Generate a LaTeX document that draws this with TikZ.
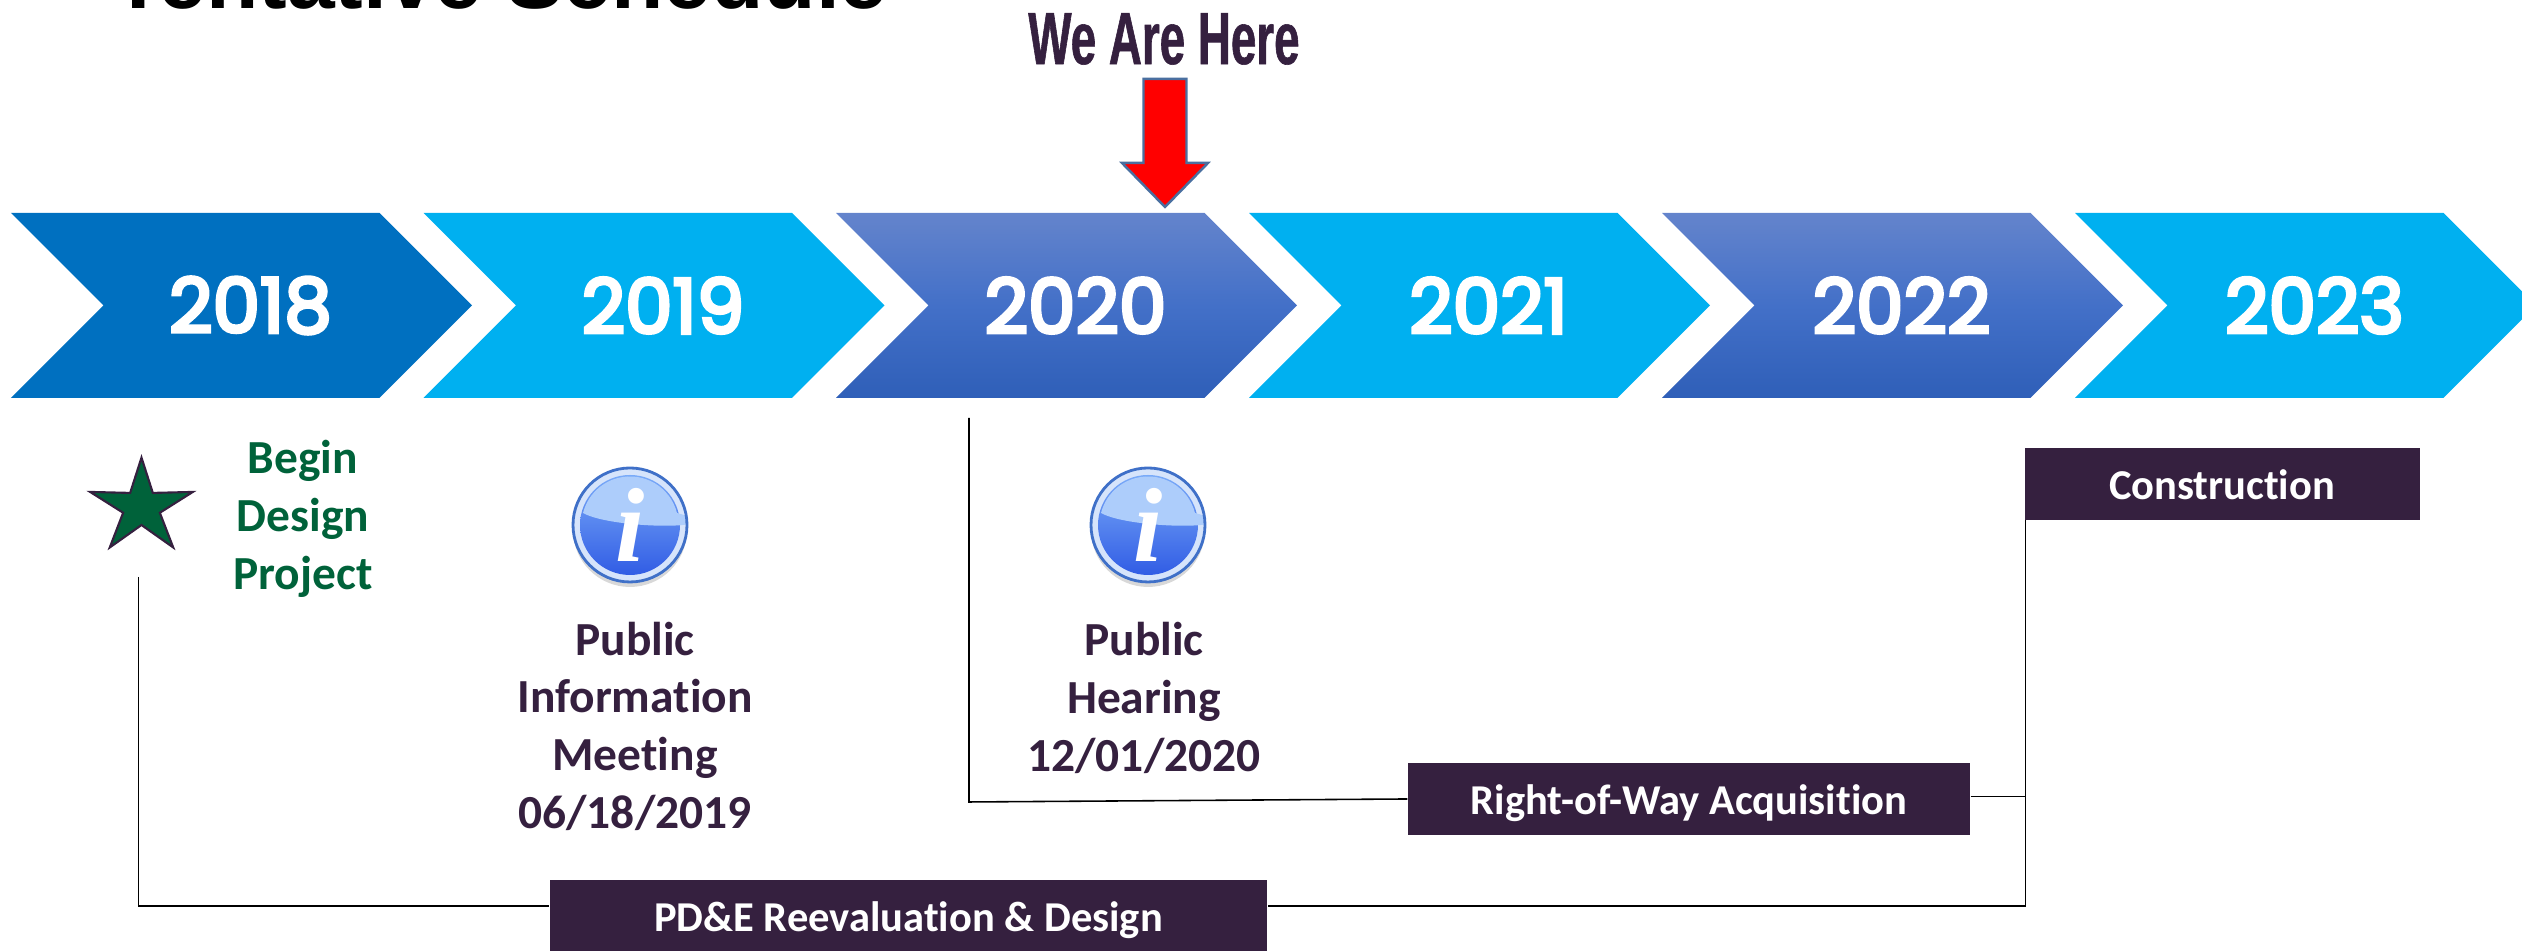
\documentclass[tikz,border=0pt]{standalone}
\usepackage{fontspec}
\setmainfont[Ligatures=NoCommon]{Carlito}
\newfontfamily\yearfont[FakeBold=4.6]{Poppins}
\newfontfamily\titlefont{Liberation Sans}
\newfontfamily\herefont[FakeStretch=0.62,FakeBold=0.8]{Liberation Sans}
\newfontfamily\infofont{Liberation Serif}
\usetikzlibrary{shapes.geometric,shapes.symbols,shadows,positioning}
\definecolor{plum}{HTML}{35203F}
\definecolor{forest}{HTML}{00623A}
\definecolor{deepblue}{HTML}{0070C0}
\definecolor{skyblue}{HTML}{00B0F0}
\definecolor{fadetop}{HTML}{6484CC}
\definecolor{fademid}{HTML}{4370C8}
\definecolor{fadebot}{HTML}{2F5FB8}
\definecolor{steel}{HTML}{4A6FA0}
\definecolor{inforim}{HTML}{3F70C8}
\definecolor{inforing}{HTML}{D6E4FB}
\definecolor{infotop}{HTML}{7FB0FA}
\definecolor{infomid}{HTML}{6A9CF7}
\definecolor{infobot}{HTML}{2C57E3}
\definecolor{infogloss}{HTML}{ADCDFB}
\tikzset{
  yearband/.style={signal,signal from=west,signal to=east,signal pointer angle=90,
    minimum width=4.61cm,minimum height=1.85cm,inner sep=0pt,text=white,
    execute at begin node=\hspace*{0.18cm},
    font=\yearfont\fontsize{21.5}{25}\selectfont},
  skyband/.style={yearband,fill=skyblue},
  fadeband/.style={yearband,top color=fadetop,bottom color=fadebot,middle color=fademid},
  taskbox/.style={fill=plum,text=white,inner sep=0pt,text height=0.35cm,text depth=0.04cm,
    minimum height=0.72cm,font=\bfseries\fontsize{12.1}{14}\selectfont},
  eventtext/.style={text=plum,align=center,font=\bfseries\fontsize{13.5}{16.4}\selectfont},
  link/.style={draw=black,line width=0.45pt},
  infodisc/.style={circle,minimum size=1.14cm,inner sep=0pt,fill=inforing,draw=inforim,line width=0.8pt,
    text=white,font=\infofont\bfseries\itshape\fontsize{30}{30}\selectfont,
    drop shadow={shadow xshift=0pt,shadow yshift=-0.05cm,fill=black!30},
    path picture={
      \fill[top color=infotop,middle color=infomid,bottom color=infobot] (path picture bounding box.center) circle (0.5);
      \fill[infogloss] (path picture bounding box.center) ++(-0.47,0.12) .. controls +(0.3,-0.17) and +(0.64,-0.17) .. ++(0.94,0)
        arc[start angle=14.3,end angle=165.7,radius=0.485] -- cycle;
    }},
}
\begin{document}
\begin{tikzpicture}
\useasboundingbox (0,0) rectangle (25.22,9.51);

\node[anchor=base,font=\titlefont\bfseries\fontsize{24.4}{30}\selectfont] (title) at (5.0,9.42) {Tentative Schedule};
\node[text=plum,font=\herefont\bfseries\fontsize{21}{25}\selectfont] (here) at (11.64,9.12) {We Are Here};

% red marker above 2020
\coordinate (mark) at (11.65,8.72);
\draw[fill=red,draw=steel,line width=0.7pt] (mark) ++(-0.215,0) -- ++(0,-0.84) -- ++(-0.215,0) -- ++(0.43,-0.44)
  -- ++(0.43,0.44) -- ++(-0.215,0) -- ++(0,0.84) -- cycle;

\node[yearband,fill=deepblue] (y2018) at (2.415,6.455) {2018};
\node[skyband] (y2019) at (6.54,6.455) {2019};
\node[fadeband] (y2020) at (10.665,6.455) {2020};
\node[skyband] (y2021) at (14.795,6.455) {2021};
\node[fadeband] (y2022) at (18.925,6.455) {2022};
\node[skyband] (y2023) at (23.055,6.455) {2023};

\node[star,star points=5,star point ratio=2.8,minimum size=1.08cm,inner sep=0pt,transform shape,yscale=0.92,
  fill=forest,draw=plum,line width=0.6pt] (begin) at (1.415,4.437) {};
\node[eventtext,text=forest] (beginlabel) at (3.03,4.32) {Begin\\Design\\Project};

\node[infodisc] (infoa) at (6.30,4.26) {i};
\node[infodisc] (infob) at (11.48,4.26) {i};

\node[eventtext] (meeting) at (6.35,2.25) {Public\\Information\\Meeting\\06/18/2019};
\node[eventtext] (hearing) at (11.44,2.53) {Public\\Hearing\\12/01/2020};

\node[taskbox,minimum width=3.95cm] (build) at (22.22,4.67) {Construction};
\node[taskbox,minimum width=5.62cm] (row) at (16.89,1.52) {Right-of-Way Acquisition};
\node[taskbox,minimum width=7.17cm] (design) at (9.085,0.35) {PD\&E Reevaluation \& Design};

\coordinate (astart) at (1.385,3.74);
\coordinate (acorner) at (1.385,0.45);
\coordinate (bstart) at (9.69,5.33);
\coordinate (bcorner) at (9.69,1.49);
\coordinate (cjoin) at (20.255,1.545);
\coordinate (ccorner) at (20.255,0.45);
\coordinate (ctop) at (20.255,4.31);

\draw[link] (astart) -- (acorner) -- (acorner -| design.west);
\draw[link] (bstart) -- (bcorner) -- (row.west);
\draw[link] (ctop) -- (ccorner) -- (ccorner -| design.east);
\draw[link] (cjoin -| row.east) -- (cjoin);
\end{tikzpicture}
\end{document}
